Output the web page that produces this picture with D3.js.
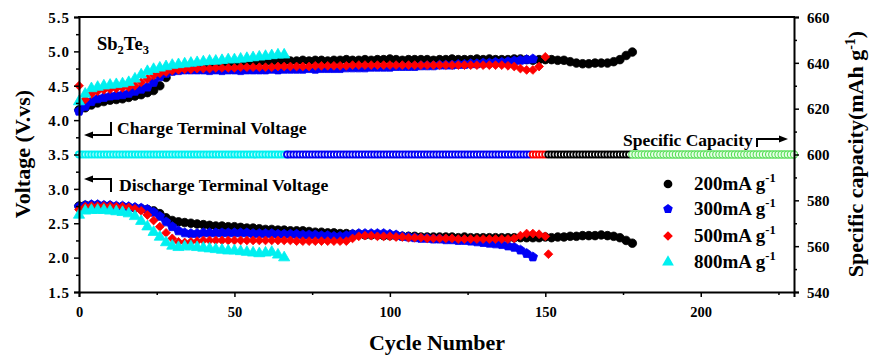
<!DOCTYPE html>
<html><head><meta charset="utf-8">
<script src="https://cdn.jsdelivr.net/npm/d3@7"></script>
<style>
body{margin:0;background:#fff}
text{font-family:"Liberation Serif","Times New Roman",serif;font-weight:bold;fill:#000}
</style>
</head><body>
<svg id="c" width="869" height="356"></svg>
<script>
// ---------- data ----------
const STEP = 2; // one reading every 2 cycles
const rateLabels = ["200mA g", "300mA g", "500mA g", "800mA g"];
const xMajor = [0, 50, 100, 150, 200];
const xMinor = [25, 75, 125, 175, 225];
const yMajor = [1.5, 2.0, 2.5, 3.0, 3.5, 4.0, 4.5, 5.0, 5.5];
const yMinor = [1.75, 2.25, 2.75, 3.25, 3.75, 4.25, 4.75, 5.25];
const capMajor = [540, 560, 580, 600, 620, 640, 660];
const capMinor = [550, 570, 590, 610, 630, 650];

const charge200 = [4.15,4.18,4.22,4.25,4.27,4.29,4.30,4.31,4.33,4.35,4.37,4.40,4.43,4.50,4.62,4.72,
 4.76,4.78,4.79,4.80,4.81,4.82,4.82,4.83,4.83,4.84,4.84,4.85,4.84,4.85,4.85,4.86,
 4.85,4.86,4.86,4.86,4.87,4.86,4.87,4.87,4.86,4.87,4.87,4.88,4.87,4.87,4.88,4.87,
 4.88,4.88,4.89,4.88,4.87,4.88,4.88,4.88,4.88,4.87,4.88,4.88,4.89,4.88,4.88,4.88,
 4.89,4.88,4.89,4.88,4.88,4.88,4.89,4.89,4.88,4.87,4.88,4.88,4.88,4.87,4.87,4.85,
 4.83,4.82,4.82,4.83,4.83,4.83,4.85,4.88,4.94,4.99];
const charge300 = [4.13,4.20,4.27,4.31,4.33,4.35,4.36,4.37,4.39,4.42,4.45,4.48,4.55,4.63,4.68,4.71,
 4.72,4.73,4.73,4.73,4.73,4.72,4.73,4.72,4.73,4.73,4.72,4.73,4.73,4.73,4.73,
 4.74,4.73,4.74,4.74,4.74,4.74,4.75,4.74,4.75,4.75,4.75,4.75,4.76,4.76,4.76,
 4.76,4.77,4.77,4.77,4.77,4.78,4.78,4.78,4.78,4.79,4.79,4.79,4.80,4.80,4.80,
 4.81,4.81,4.82,4.82,4.83,4.83,4.84,4.84,4.85,4.86,4.87,4.88,4.89];
const charge500 = [4.50,4.30,4.38,4.42,4.44,4.45,4.46,4.47,4.48,4.50,4.55,4.60,4.65,4.68,4.70,4.72,
 4.73,4.74,4.74,4.75,4.75,4.75,4.76,4.76,4.76,4.76,4.77,4.77,4.77,4.77,4.77,4.77,
 4.78,4.78,4.78,4.78,4.78,4.78,4.79,4.79,4.79,4.79,4.79,4.79,4.80,4.80,4.80,4.80,
 4.80,4.80,4.80,4.80,4.80,4.80,4.80,4.80,4.80,4.80,4.80,4.80,4.80,4.80,4.80,4.80,
 4.80,4.80,4.80,4.80,4.80,4.79,4.78,4.75,4.73,4.73,4.78,4.92];
const charge800 = [4.27,4.38,4.46,4.48,4.50,4.51,4.52,4.53,4.55,4.60,4.66,4.71,4.74,4.76,4.78,4.80,
 4.81,4.82,4.83,4.84,4.85,4.86,4.86,4.87,4.88,4.88,4.89,4.90,4.91,4.92,4.93,4.94,4.95,4.95];

const discharge200 = [2.75,2.76,2.76,2.76,2.75,2.75,2.74,2.74,2.73,2.72,2.71,2.70,2.68,2.64,2.58,2.54,
 2.52,2.51,2.50,2.49,2.48,2.47,2.46,2.46,2.45,2.45,2.44,2.43,2.43,2.42,2.41,2.41,
 2.40,2.40,2.39,2.39,2.39,2.38,2.37,2.37,2.36,2.36,2.35,2.35,2.34,2.34,2.33,2.33,
 2.33,2.32,2.32,2.32,2.31,2.31,2.31,2.30,2.30,2.30,2.30,2.30,2.30,2.29,2.30,2.29,
 2.29,2.29,2.29,2.29,2.29,2.29,2.29,2.29,2.29,2.29,2.29,2.30,2.29,2.30,2.30,2.31,
 2.31,2.32,2.32,2.32,2.33,2.32,2.31,2.29,2.25,2.21];
const discharge300 = [2.74,2.76,2.77,2.77,2.76,2.76,2.75,2.75,2.74,2.73,2.72,2.70,2.66,2.60,2.52,2.45,
 2.39,2.36,2.35,2.35,2.36,2.36,2.36,2.36,2.36,2.36,2.36,2.36,2.35,2.35,2.35,2.35,
 2.34,2.34,2.34,2.34,2.33,2.33,2.33,2.32,2.32,2.31,2.31,2.32,2.34,2.35,2.35,2.35,
 2.35,2.35,2.34,2.33,2.31,2.30,2.29,2.28,2.28,2.27,2.27,2.26,2.26,2.25,2.25,2.24,
 2.23,2.22,2.21,2.20,2.19,2.17,2.15,2.11,2.06,2.01];
const discharge500 = [2.70,2.74,2.75,2.75,2.75,2.75,2.74,2.74,2.73,2.71,2.68,2.62,2.54,2.45,2.36,2.28,
 2.23,2.22,2.23,2.24,2.25,2.25,2.25,2.25,2.25,2.25,2.25,2.25,2.25,2.25,2.25,2.25,
 2.25,2.25,2.25,2.24,2.24,2.24,2.24,2.24,2.24,2.24,2.24,2.24,2.28,2.31,2.32,2.32,
 2.31,2.31,2.31,2.30,2.30,2.29,2.29,2.29,2.28,2.28,2.28,2.28,2.28,2.27,2.27,2.27,
 2.27,2.27,2.27,2.27,2.27,2.27,2.28,2.32,2.35,2.35,2.34,2.31];
const discharge500Extra = [{cycle: 151, v: 2.05}];
const discharge800 = [2.62,2.68,2.69,2.69,2.69,2.68,2.67,2.66,2.64,2.60,2.53,2.45,2.37,2.30,2.22,2.17,
 2.15,2.16,2.16,2.15,2.14,2.13,2.12,2.11,2.10,2.10,2.09,2.08,2.07,2.06,2.07,2.08,2.04,2.00];

// specific capacity readings (mAh g-1): constant 600 in each cycle span
const capValue = 600;
const capSpans = [
  {from: 0, to: 67, key: "800"},
  {from: 67, to: 145, key: "300"},
  {from: 146, to: 150, key: "500"},
  {from: 151, to: 177, key: "200"},
  {from: 178, to: 230, key: "total"}
];

// ---------- drawing ----------
const colors = {"200": "#000000", "300": "#0000f5", "500": "#ff0000", "800": "#00f0f0", "total": "#55dd55"};
const pentagon = {draw(ctx, size){ const r = Math.sqrt(size/2.38); for(let i=0;i<5;i++){const a=-Math.PI/2+i*2*Math.PI/5; const px=r*Math.cos(a), py=r*Math.sin(a); if(i===0) ctx.moveTo(px,py); else ctx.lineTo(px,py);} ctx.closePath(); }};
const shapes = {"200": d3.symbolCircle, "300": pentagon, "500": d3.symbolDiamond2, "800": d3.symbolTriangle};
const sizes = {"200": 58, "300": 58, "500": 50, "800": 54};
const keys = ["200", "300", "500", "800"];

const svg = d3.select("#c");
const x = d3.scaleLinear().domain([0, 230]).range([79, 794]);
const yV = d3.scaleLinear().domain([1.5, 5.5]).range([292, 17]);
const yC = d3.scaleLinear().domain([540, 660]).range([292, 17]);

// capacity markers
const capG = svg.append("g");
capSpans.forEach(s => {
  const cyc = d3.range(s.from, s.to + 1);
  capG.selectAll(null).data(cyc).enter().append("circle")
    .attr("cx", d => x(d)).attr("cy", yC(capValue))
    .attr("r", s.key === "total" ? 3.6 : 3.2)
    .attr("fill", s.key === "total" ? "#e8ffe8" : (s.key === "800" ? "#b8ffff" : "#ffffff"))
    .attr("stroke", colors[s.key])
    .attr("stroke-width", s.key === "total" ? 1.1 : 1.8);
});

const chargeData = {"200": charge200, "300": charge300, "500": charge500, "800": charge800};
const dischargeData = {"200": discharge200, "300": discharge300, "500": discharge500, "800": discharge800};

function drawSeries(arr, key, extra){
  const pts = arr.map((v, i) => ({cycle: i * STEP, v}));
  if (extra) extra.forEach(e => pts.push(e));
  const sym = d3.symbol().type(shapes[key]).size(sizes[key]);
  svg.append("g").selectAll("path").data(pts).enter().append("path")
    .attr("d", sym)
    .attr("transform", d => `translate(${x(d.cycle)},${yV(d.v)})`)
    .attr("fill", colors[key]).attr("stroke", colors[key]).attr("stroke-width", 0.8);
}
keys.forEach(k => {
  drawSeries(dischargeData[k], k, k === "500" ? discharge500Extra : null);
  drawSeries(chargeData[k], k, null);
});

// axes
function styleAxis(g){
  g.select(".domain").attr("stroke-width", 2);
  g.selectAll(".tick line").attr("stroke-width", 1.5);
  g.selectAll("text").style("font-size", "15px").style("font-family", '"Liberation Serif",serif').style("font-weight", "bold");
}
const gx = svg.append("g").attr("transform", "translate(0,292)")
  .call(d3.axisBottom(x).tickValues(xMajor).tickSize(5).tickFormat(d3.format("d")));
styleAxis(gx);
gx.selectAll("text").attr("y", 25).attr("dy", 0).style("font-size", "14.5px");
const gxm = svg.append("g").attr("transform", "translate(0,292)")
  .call(d3.axisBottom(x).tickValues(xMinor).tickSize(3).tickFormat(""));
gxm.select(".domain").remove(); gxm.selectAll(".tick line").attr("stroke-width", 1.5);

const gy = svg.append("g").attr("transform", "translate(79,0)")
  .call(d3.axisLeft(yV).tickValues(yMajor).tickSize(5).tickFormat(d3.format(".1f")));
styleAxis(gy);
gy.selectAll("text").attr("x", -9).attr("dy", "0.35em").style("letter-spacing", "1px");
const gym = svg.append("g").attr("transform", "translate(79,0)")
  .call(d3.axisLeft(yV).tickValues(yMinor).tickSize(3).tickFormat(""));
gym.select(".domain").remove(); gym.selectAll(".tick line").attr("stroke-width", 1.5);

const gr = svg.append("g").attr("transform", "translate(794,0)")
  .call(d3.axisRight(yC).tickValues(capMajor).tickSize(5).tickFormat(d3.format("d")));
styleAxis(gr);
gr.selectAll("text").attr("x", 13).attr("dy", "0.35em");
const grm = svg.append("g").attr("transform", "translate(794,0)")
  .call(d3.axisRight(yC).tickValues(capMinor).tickSize(3).tickFormat(""));
grm.select(".domain").remove(); grm.selectAll(".tick line").attr("stroke-width", 1.5);

svg.append("line").attr("x1", 78).attr("x2", 795).attr("y1", 17).attr("y2", 17)
  .attr("stroke", "#000").attr("stroke-width", 2);

// axis titles
svg.append("text").attr("x", 437).attr("y", 350).attr("text-anchor", "middle")
  .style("font-size", "22px").text("Cycle Number");
svg.append("text").attr("transform", "translate(30,154) rotate(-90)").attr("text-anchor", "middle")
  .style("font-size", "22px").text("Voltage (V.vs)");
const rt = svg.append("text").attr("transform", "translate(863,154) rotate(-90)").attr("text-anchor", "middle")
  .style("font-size", "22px");
rt.append("tspan").text("Specific capacity(mAh g");
rt.append("tspan").attr("dy", -8).style("font-size", "14px").text("-1");
rt.append("tspan").attr("dy", 8).text(")");

// annotations
const sb = svg.append("text").attr("x", 97).attr("y", 50).style("font-size", "18.5px");
sb.append("tspan").text("Sb");
sb.append("tspan").attr("dy", 4).style("font-size", "12.5px").text("2");
sb.append("tspan").attr("dy", -4).text("Te");
sb.append("tspan").attr("dy", 4).style("font-size", "12.5px").text("3");

svg.append("text").attr("x", 117).attr("y", 134).style("font-size", "17.7px").text("Charge Terminal Voltage");
svg.append("text").attr("x", 119).attr("y", 191).style("font-size", "17.7px").text("Discharge Terminal Voltage");
svg.append("text").attr("x", 623).attr("y", 146).style("font-size", "17.5px").text("Specific Capacity");

function bracket(pts, tip, dir){
  svg.append("path").attr("d", d3.line()(pts)).attr("fill", "none").attr("stroke", "#000").attr("stroke-width", 2);
  const [tx, ty] = tip;
  const tri = dir < 0 ? [[tx, ty], [tx + 9, ty - 3.5], [tx + 9, ty + 3.5]] : [[tx, ty], [tx - 9, ty - 3.5], [tx - 9, ty + 3.5]];
  svg.append("path").attr("d", d3.line()(tri) + "Z").attr("fill", "#000");
}
bracket([[111, 122], [111, 135], [90, 135]], [84, 135], -1);
bracket([[111, 192], [111, 179], [90, 179]], [84, 179], -1);
bracket([[757, 147], [757, 139], [780, 139]], [788, 139], 1);

// legend
const lg = svg.append("g");
const legY = [184, 209, 236, 262];
keys.forEach((k, i) => {
  lg.append("path").attr("d", d3.symbol().type(shapes[k]).size(60)())
    .attr("transform", `translate(668,${legY[i]})`).attr("fill", colors[k]);
  const t = lg.append("text").attr("x", 694).attr("y", legY[i] + 6).style("font-size", "19px");
  t.append("tspan").text(rateLabels[i]);
  t.append("tspan").attr("dy", -8).style("font-size", "12.5px").text("-1");
});
</script>
</body></html>
